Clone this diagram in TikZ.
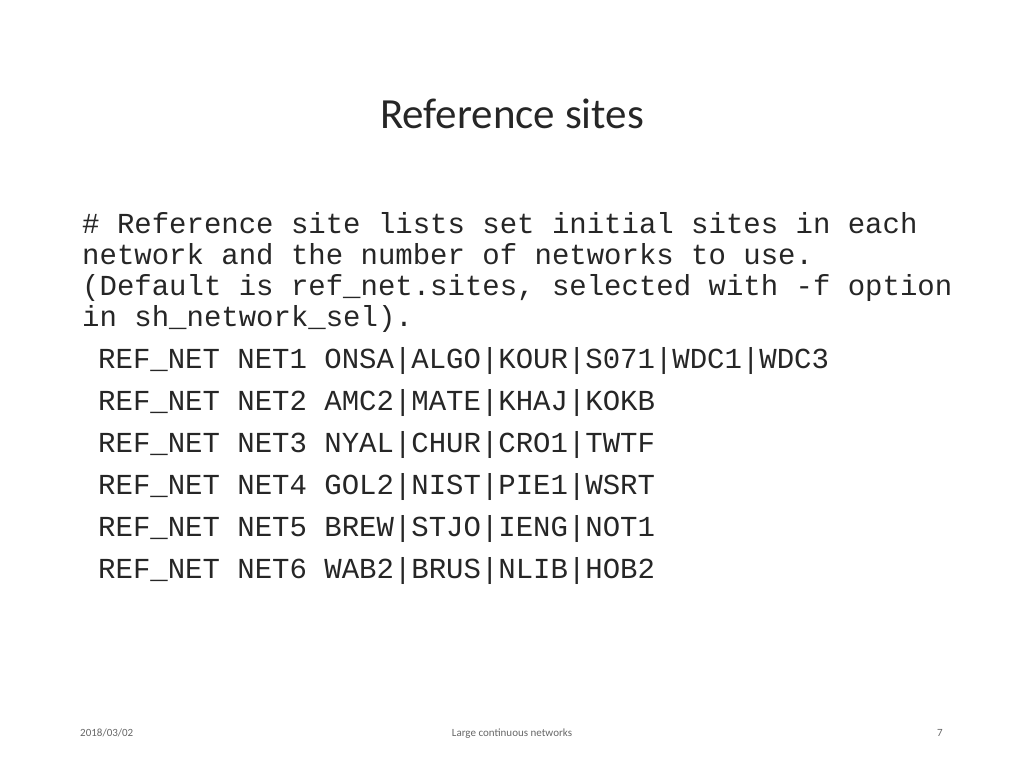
\documentclass[tikz,border=0pt]{standalone}
\usepackage{fontspec}
\setmainfont{Carlito}
\newfontfamily\titlefont{Carlito}
\newfontfamily\monofont{Liberation Mono}
\begin{document}
\begin{tikzpicture}[x=1pt,y=-1pt,
  mono/.style={anchor=base west,inner sep=0pt,font=\monofont\fontsize{29}{31}\selectfont,text=black!85},
  foot/.style={anchor=base,inner sep=0pt,font=\fontsize{11}{13}\selectfont,text=black!60}]
\useasboundingbox (0,0) rectangle (1024,768);
\node[anchor=base,inner sep=0pt,font=\titlefont\fontsize{43}{48}\selectfont,text=black!85] (title) at (512,128) {Reference sites};
\node[mono] (l1) at (82,233) {\#  Reference site lists set initial sites in each};
\node[mono] (l2) at (82,264) {network and the number of networks to use.};
\node[mono] (l3) at (82,295) {(Default is ref\_net.sites, selected with -f option};
\node[mono] (l4) at (82,326) {in sh\_network\_sel).};
\node[mono] (r1) at (98,368) {REF\_NET NET1 ONSA|ALGO|KOUR|S071|WDC1|WDC3};
\node[mono] (r2) at (98,410) {REF\_NET NET2 AMC2|MATE|KHAJ|KOKB};
\node[mono] (r3) at (98,452) {REF\_NET NET3 NYAL|CHUR|CRO1|TWTF};
\node[mono] (r4) at (98,494) {REF\_NET NET4 GOL2|NIST|PIE1|WSRT};
\node[mono] (r5) at (98,536) {REF\_NET NET5 BREW|STJO|IENG|NOT1};
\node[mono] (r6) at (98,578) {REF\_NET NET6 WAB2|BRUS|NLIB|HOB2};
\node[foot,anchor=base west] (date) at (80,736) {2018/03/02};
\node[foot] (mid) at (512,736) {Large continuous networks};
\node[foot] (pg) at (940,736) {7};
\end{tikzpicture}
\end{document}
